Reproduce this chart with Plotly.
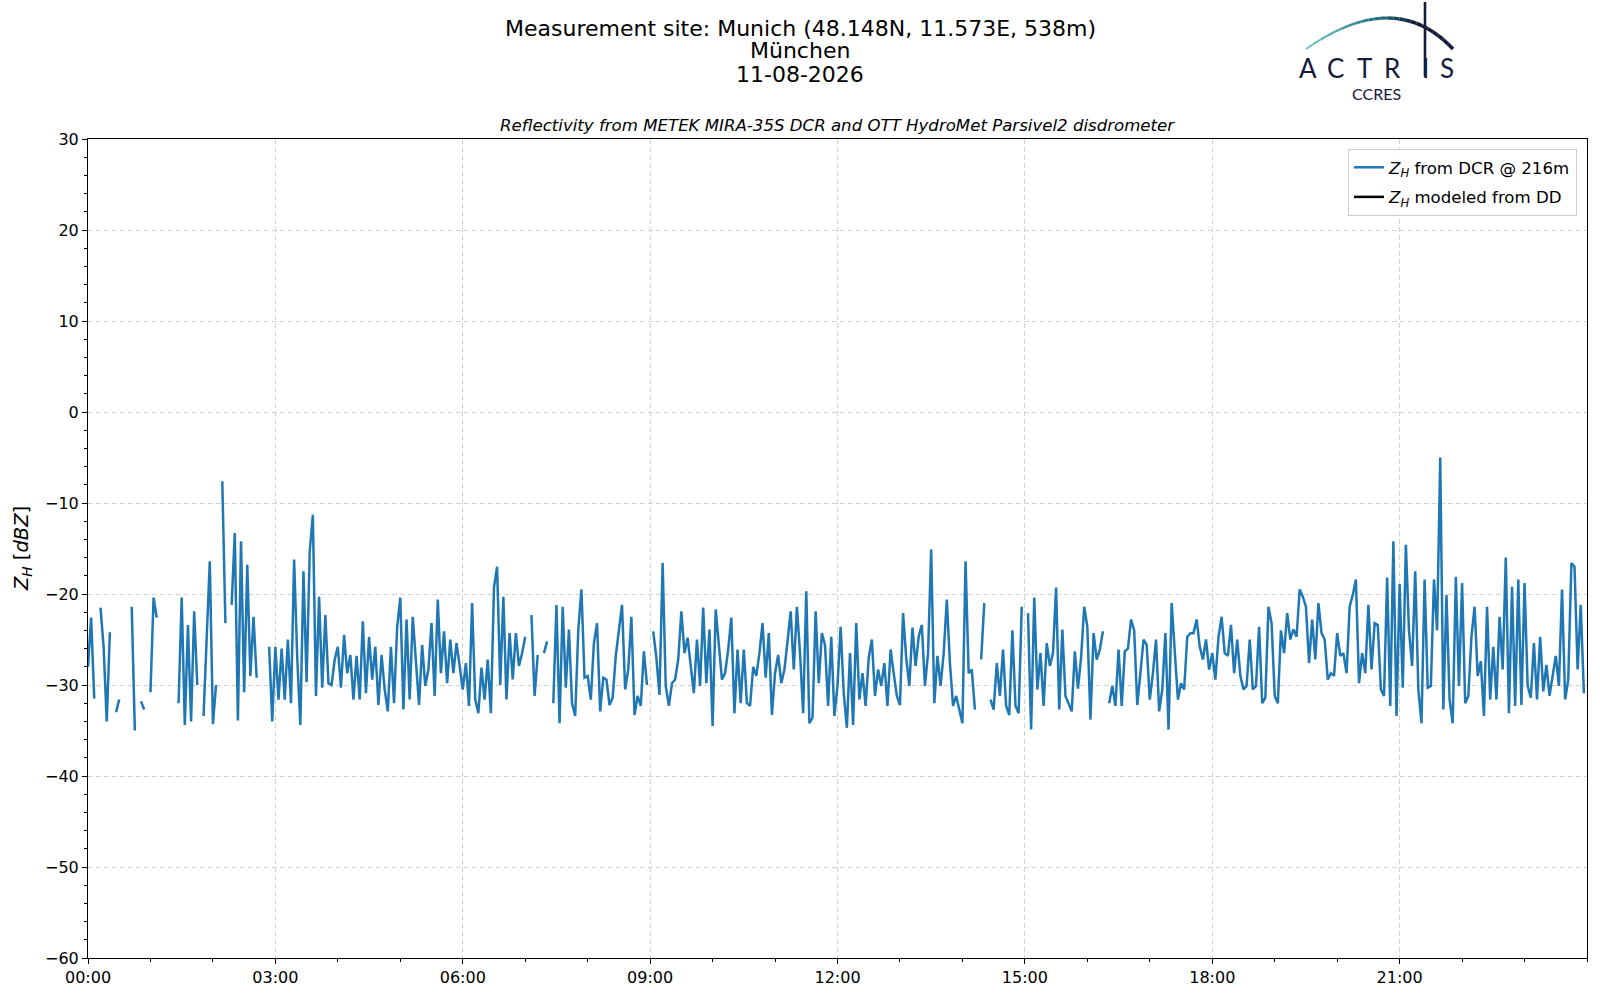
import numpy as np
import pandas as pd
import plotly.graph_objects as go

N = None

# Z_H from DCR @ 216 m, 3-minute samples (None = no data)
zh_00_03 = [
    -28, -22.6, -31.5, N, -21.5, -25.8, -34, -24.2, N, -33, -31.6, N, N, N, -21.4, -35, N, -31.8, -32.7, N,
    -30.8, -20.4, -22.6, N, N, N, N, N, N, -32, -20.4, -34.4, -23.4, -34, -21.9, -30, N, -33.4, -25.3, -16.4,
    -34.3, -30, N, -7.6, -23.2, N, -21.2, -13.3, -33.9, -14.2, -30.8, -16.8, -29, -22.5, -29.2, N, N, N, -25.8, -34,
]
zh_03_06 = [
    -25.8, -31.6, -26, -31.6, -25, -32, -16.2, -27, -34.4, -17.5, -29.7, -15.3, -11.3, -31.2, -20.3, -30.3, -22.3, -29.8, -30, -27.2,
    -25.8, -30.3, -24.5, -28.7, -26.7, -31.6, -26.8, -31.6, -23.0, -30.9, -24.7, -29.4, -25.8, -32.2, -26.7, -30.5, -32.9, -25.8, -32.0, -23.6,
    -20.4, -32.7, -22.8, -31.6, -22.5, -27.9, -32.2, -25.6, -30.1, -28.3, -23.2, -31.2, -20.6, -28.7, -24.1, -29.8, -25.0, -28.7, -25.4, -27.9,
]
zh_06_09 = [
    -30.5, -27.6, -32.3, -21.0, -31.6, -33.1, -28.1, -31.6, -27.2, -33.1, -19.3, -17.0, -30.0, -20.3, -31.6, -24.3, -29.4, -24.3, -27.9, -26.5,
    -24.7, N, -22.3, -31.2, -26.7, N, -26.5, -25.2, N, -32.0, -21.2, -34.2, -21.4, -30.3, -23.9, -32.0, -33.4, -23.9, -19.5, -29.2,
    -29.0, -31.6, -25.4, -23.2, -32.9, -29.2, -29.4, -32.2, -31.4, -26.8, -23.9, -21.2, -30.5, -28.3, -22.5, -33.3, -31.2, -32.3, -26.3, -30.0,
]
zh_09_12 = [
    N, -24.1, -27.0, -31.1, -16.6, -30.1, -32.3, -29.8, -29.4, -27.2, -21.9, -26.5, -24.8, -27.9, -30.9, -25.0, -30.1, -21.5, -29.8, -23.9,
    -34.5, -21.7, -25.4, -29.4, -28.7, -26.1, -22.6, -33.1, -26.1, -32.0, -26.1, -32.0, -32.3, -28.0, -29.0, -26.5, -23.2, -29.2, -24.3, -33.3,
    -28.7, -26.7, -29.8, -28.3, -25.2, -21.9, -28.3, -21.4, -26.5, -33.1, -19.7, -34.2, -33.6, -21.9, -29.8, -24.3, -25.6, -32.3, -24.7, -33.4,
]
zh_12_15 = [
    -30.1, -23.6, -30.9, -34.7, -26.5, -34.4, -23.2, -31.6, -28.7, -32.3, -27.0, -25.0, -31.2, -28.3, -30.1, -27.6, -32.3, -26.1, -28.7, -31.2,
    -32.2, -22.1, -27.0, -30.1, -23.7, -27.9, -24.7, -23.4, -30.1, -26.5, -15.1, -32.0, -26.8, -30.1, -26.5, -20.6, -27.6, -32.3, -31.2, -32.7,
    -34.2, -16.4, -28.7, -28.3, -32.7, N, -27.2, -21.0, N, -31.6, -32.7, -27.6, -31.2, -26.1, -32.3, -33.3, -24.0, -32.3, -33.1, -21.4,
]
zh_15_18 = [
    N, -22.1, -34.9, -20.4, -30.5, -26.5, -32.3, -25.4, -27.9, -26.5, -19.3, -32.7, -23.9, -31.2, -32.0, -32.9, -26.3, -30.4, -27.0, -21.4,
    -23.6, -33.8, -24.3, -27.2, -26.1, -24.1, N, -32.0, -30.1, -32.3, -26.1, -32.3, -26.3, -26.0, -22.8, -24.0, -32.2, -28.7, -25.0, -25.6,
    -31.6, -28.7, -25.0, -32.9, -30.5, -24.3, -34.9, -21.0, -27.0, -31.6, -29.8, -30.5, -24.7, -24.3, -24.3, -22.8, -25.8, -27.2, -25.0, -28.3,
]
zh_18_21 = [
    -26.5, -29.4, -24.7, -22.5, -26.5, -26.8, -23.4, -28.7, -25.0, -29.0, -30.5, -30.1, -25.0, -30.5, -30.1, -23.6, -32.0, -31.4, -21.4, -23.2,
    -31.2, -32.0, -24.0, -26.5, -22.1, -25.0, -23.9, -24.7, -19.5, -20.3, -21.4, -27.6, -22.8, -27.2, -21.0, -24.3, -25.0, -29.4, -28.7, -29.0,
    -24.3, -26.8, -26.5, -28.7, -21.4, -20.1, -18.4, -29.8, -26.5, -28.7, -21.2, -28.3, -23.2, -23.4, -30.5, -31.2, -18.2, -32.3, -14.2, -33.4,
]
zh_21_24 = [
    -18.9, -30.3, -14.6, -24.0, -27.9, -17.5, -30.5, -34.2, -18.4, -30.3, -30.1, -18.4, -24.0, -5.0, -32.7, -20.1, -31.6, -34.2, -18.1, -30.1,
    -18.8, -32.0, -31.2, -24.7, -21.4, -29.0, -27.4, -33.4, -21.4, -31.6, -25.8, -31.6, -22.5, -28.3, -16.0, -33.1, -19.2, -32.3, -18.4, -32.2,
    -18.8, -30.1, -31.4, -25.4, -31.6, -24.7, -30.7, -27.8, -31.2, -28.9, -26.8, -30.1, -19.5, -31.6, -29.4, -16.6, -17.0, -28.3, -21.2, -30.9,
]

zh_dcr = zh_00_03 + zh_03_06 + zh_06_09 + zh_09_12 + zh_12_15 + zh_15_18 + zh_18_21 + zh_21_24
times = pd.date_range("2026-08-11 00:00", periods=len(zh_dcr), freq="3min")
zh_dd = [None] * len(zh_dcr)  # modeled from disdrometer: no data on this day

x_tick_vals = pd.date_range("2026-08-11 00:00", periods=8, freq="3h")
x_tick_text = [t.strftime("%H:%M") for t in x_tick_vals]

title_lines = ["Measurement site: Munich (48.148N, 11.573E, 538m)", "München", "11-08-2026"]
subtitle = "Reflectivity from METEK MIRA-35S DCR and OTT HydroMet Parsivel2 disdrometer"

# ---- figure geometry (pixels) ----
W, H = 1600, 1000
L, R, T, B = 88, 1587, 139, 958


def px(x):
    return (x - L) / (R - L)


def py(y):
    return (B - y) / (B - T)


FONT = "DejaVu Sans"
NAVY = "#161a3b"

fig = go.Figure()
fig.add_trace(go.Scatter(
    x=times, y=zh_dcr, mode="lines", connectgaps=False,
    line=dict(color="#1f77b4", width=2.5),
    name="<i>Z</i><sub><i>H</i></sub> from DCR @ 216m", legendgroup="a",
))
fig.add_trace(go.Scatter(
    x=times, y=zh_dd, mode="lines",
    line=dict(color="black", width=2.5),
    name="<i>Z</i><sub><i>H</i></sub> modeled from DD", legendgroup="b",
))

grid = dict(showgrid=True, gridcolor="#d3d3d3", gridwidth=1, griddash="5px,3px")

fig.update_xaxes(
    type="date",
    range=["2026-08-11 00:00", "2026-08-12 00:00"],
    tickmode="array", tickvals=x_tick_vals, ticktext=x_tick_text,
    ticks="outside", ticklen=5, tickwidth=1, tickcolor="black",
    minor=dict(dtick=3600000, tick0="2026-08-11 00:00", ticks="outside", ticklen=3, tickcolor="black", showgrid=False),
    showline=True, linecolor="black", linewidth=1, mirror=True,
    tickfont=dict(family=FONT, size=16, color="black"),
    zeroline=False, **grid,
)
fig.update_yaxes(
    range=[-60, 30], dtick=10, tick0=0,
    ticks="outside", ticklen=5, tickwidth=1, tickcolor="black",
    minor=dict(dtick=2, ticks="outside", ticklen=3, tickcolor="black", showgrid=False),
    showline=True, linecolor="black", linewidth=1, mirror=True,
    tickfont=dict(family=FONT, size=16, color="black"),
    zeroline=False, **grid,
)

annotations = []
for text, yc in zip(title_lines, [28.6, 51.0, 74.5]):
    annotations.append(dict(
        text=text, x=px(800), y=py(yc), xref="paper", yref="paper",
        xanchor="center", yanchor="middle", showarrow=False,
        font=dict(family=FONT, size=22, color="black"),
    ))
annotations.append(dict(
    text="<i>" + subtitle + "</i>", x=0.5, y=py(125.5), xref="paper", yref="paper",
    xanchor="center", yanchor="middle", showarrow=False,
    font=dict(family=FONT, size=16.6, color="black"),
))
annotations.append(dict(
    text="<i>Z</i><sub><i>H</i></sub> [<i>dBZ</i>]", x=px(22.5), y=0.5, xref="paper", yref="paper",
    xanchor="center", yanchor="middle", textangle=-90, showarrow=False,
    font=dict(family=FONT, size=19.5, color="black"),
))

# ---- ACTRIS / CCRES logo ----
for letter, xc in [("A", 1308), ("C", 1335), ("T", 1364.5), ("R", 1392.5), ("I", 1425), ("S", 1446.5)]:
    annotations.append(dict(
        text=letter, x=px(xc), y=py(67.5), xref="paper", yref="paper",
        xanchor="center", yanchor="middle", showarrow=False,
        font=dict(family="Lato", size=26, color=NAVY),
    ))
annotations.append(dict(
    text="CCRES", x=px(1376.7), y=py(93.2), xref="paper", yref="paper",
    xanchor="center", yanchor="middle", showarrow=False,
    font=dict(family="Lato", size=16, color=NAVY),
))

shapes = []
p0, p1, p2 = np.array([1306.0, 49.0]), np.array([1395.0, -13.0]), np.array([1453.0, 49.0])
nseg = 24
c_start, c_mid, c_end = np.array([110, 200, 196]), np.array([35, 110, 130]), np.array([22, 26, 58])
for i in range(nseg):
    ta, tb = i / nseg, (i + 1) / nseg
    pa = (1 - ta) ** 2 * p0 + 2 * (1 - ta) * ta * p1 + ta ** 2 * p2
    pb = (1 - tb) ** 2 * p0 + 2 * (1 - tb) * tb * p1 + tb ** 2 * p2
    tm = (ta + tb) / 2
    if tm < 0.45:
        c = c_start + (c_mid - c_start) * tm / 0.45
    else:
        c = c_mid + (c_end - c_mid) * min(1.0, (tm - 0.45) / 0.25)
    w = 1.8 + 1.8 * min(1.0, tm / 0.6)
    shapes.append(dict(
        type="line", xref="paper", yref="paper",
        x0=px(pa[0]), y0=py(pa[1]), x1=px(pb[0]), y1=py(pb[1]),
        line=dict(color="rgb(%d,%d,%d)" % tuple(c.astype(int)), width=w),
    ))
shapes.append(dict(
    type="line", xref="paper", yref="paper",
    x0=px(1425), y0=py(2), x1=px(1425), y1=py(76.7),
    line=dict(color=NAVY, width=2.6),
))

fig.update_layout(
    width=W, height=H,
    margin=dict(l=L, r=W - R, t=T, b=H - B, pad=0),
    paper_bgcolor="white", plot_bgcolor="white",
    font=dict(family=FONT, size=16, color="black"),
    showlegend=True,
    legend=dict(
        x=px(1577), xanchor="right", y=py(149), yanchor="top",
        bgcolor="rgba(255,255,255,0.85)", bordercolor="#cccccc", borderwidth=1,
        font=dict(family=FONT, size=16.6, color="black"),
        tracegroupgap=5,
    ),
    annotations=annotations,
    shapes=shapes,
)

fig.write_html("out.html", config={"displayModeBar": False},
               post_script="document.body.style.margin='0';")
